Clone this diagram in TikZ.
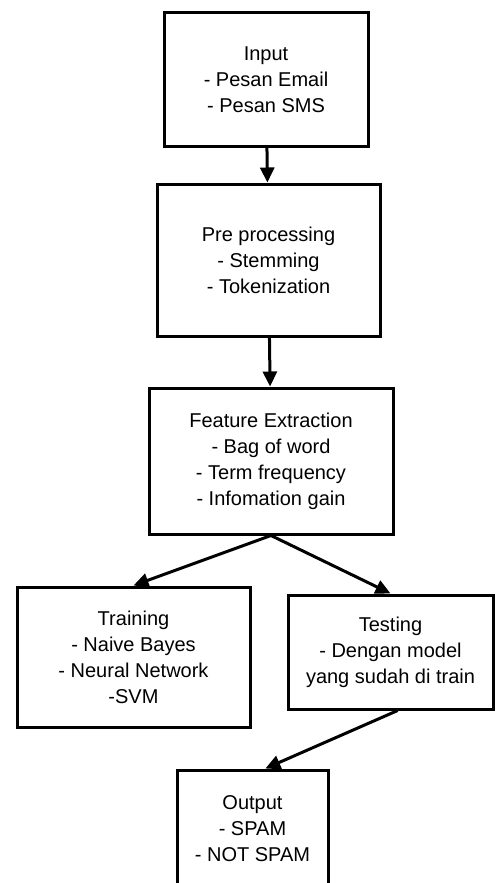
\documentclass[tikz,border=0pt]{standalone}
\usepackage{fontspec}
\setmainfont{Liberation Sans}
\usetikzlibrary{
    arrows.meta % Filled triangle tips on the connectors.
}

\begin{document}
\begin{tikzpicture}[%
        x = 0.5pt,
        y = -0.5pt,
        line width = 1.5pt,
        stage/.style = {
            draw = black,
            inner sep = 0pt,
            align = center,
            font = \fontsize{10}{13}\selectfont
        },
        flow/.style = {
            -{Triangle[length = 7.5pt, width = 7pt]}
        }
    ]

        % Fix the page to the size of the picture.
        \useasboundingbox (0, 0) rectangle (497, 883);

        % Boxes for each stage of the filter.
        \node[stage, minimum width = 102pt, minimum height = 66.5pt]
            (input) at (266, 79.5)
            {Input\\ - Pesan Email\\ - Pesan SMS};
        \node[stage, minimum width = 111.5pt, minimum height = 76pt]
            (prep) at (268.5, 260)
            {Pre processing\\ - Stemming\\ - Tokenization};
        \node[stage, minimum width = 122pt, minimum height = 73pt]
            (feature) at (271, 461)
            {Feature Extraction\\ - Bag of word\\ - Term frequency\\ - Infomation gain};
        \node[stage, minimum width = 116.5pt, minimum height = 70pt]
            (train) at (133.5, 657)
            {Training\\ - Naive Bayes\\ - Neural Network\\ -SVM};
        \node[stage, minimum width = 102.5pt, minimum height = 57pt]
            (test) at (390.5, 652)
            {Testing\\ - Dengan model\\ yang sudah di train};
        \node[stage, minimum width = 75.5pt, minimum height = 59pt]
            (output) at (252.5, 829)
            {Output\\ - SPAM\\ - NOT SPAM};

        % Connect the stages.
        \draw[flow] (input) -- (prep);
        \draw[flow] (prep) -- (feature);
        \draw[flow] (feature.south) -- (train.north);
        \draw[flow] (feature.south) -- (test.north);
        \draw[flow] (test.-83) -- (output.78);
    \end{tikzpicture}
\end{document}
